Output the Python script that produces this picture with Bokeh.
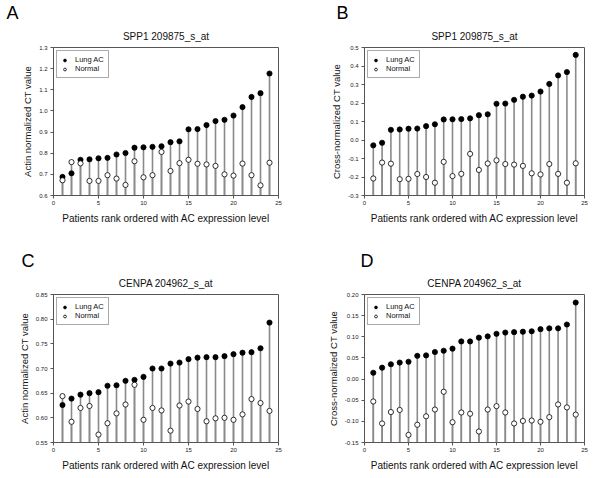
from bokeh.plotting import figure
from bokeh.models import Range1d, FixedTicker, NumeralTickFormatter, Legend, LegendItem, Title
from bokeh.layouts import gridplot
from bokeh.embed import file_html
from bokeh.resources import INLINE

# ---------------- data ----------------
ranks = [1, 2, 3, 4, 5, 6, 7, 8, 9, 10, 11, 12, 13, 14, 15, 16, 17, 18, 19, 20, 21, 22, 23, 24]
x_ticks = [0, 5, 10, 15, 20, 25]

# Panel A: SPP1, actin normalized
a_lung = [0.688, 0.705, 0.769, 0.771, 0.776, 0.778, 0.794, 0.801, 0.826, 0.828, 0.830, 0.833,
          0.852, 0.856, 0.913, 0.914, 0.933, 0.952, 0.958, 0.978, 1.018, 1.066, 1.084, 1.177]
a_normal = [0.672, 0.758, 0.752, 0.669, 0.669, 0.696, 0.680, 0.650, 0.762, 0.686, 0.696, 0.806,
            0.716, 0.753, 0.769, 0.750, 0.747, 0.740, 0.700, 0.694, 0.751, 0.696, 0.648, 0.755]
a_yticks = [0.6, 0.7, 0.8, 0.9, 1.0, 1.1, 1.2, 1.3]

# Panel B: SPP1, cross normalized
b_lung = [-0.029, -0.015, 0.055, 0.057, 0.061, 0.062, 0.075, 0.085, 0.111, 0.112, 0.113, 0.117,
          0.134, 0.139, 0.196, 0.197, 0.217, 0.234, 0.240, 0.262, 0.303, 0.349, 0.367, 0.460]
b_normal = [-0.208, -0.122, -0.128, -0.212, -0.210, -0.184, -0.200, -0.231, -0.118, -0.195, -0.183, -0.075,
            -0.162, -0.127, -0.110, -0.130, -0.133, -0.140, -0.180, -0.186, -0.130, -0.183, -0.231, -0.126]
b_yticks = [-0.3, -0.2, -0.1, 0.0, 0.1, 0.2, 0.3, 0.4, 0.5]

# Panel C: CENPA, actin normalized
c_lung = [0.626, 0.639, 0.647, 0.650, 0.652, 0.665, 0.666, 0.675, 0.677, 0.683, 0.700, 0.700,
          0.710, 0.712, 0.719, 0.722, 0.723, 0.723, 0.725, 0.729, 0.732, 0.733, 0.741, 0.793]
c_normal = [0.644, 0.592, 0.620, 0.624, 0.566, 0.589, 0.609, 0.627, 0.667, 0.596, 0.620, 0.615,
            0.574, 0.625, 0.633, 0.618, 0.593, 0.599, 0.600, 0.596, 0.607, 0.638, 0.630, 0.614]
c_yticks = [0.55, 0.60, 0.65, 0.70, 0.75, 0.80, 0.85]

# Panel D: CENPA, cross normalized
d_lung = [0.015, 0.027, 0.035, 0.039, 0.041, 0.055, 0.056, 0.064, 0.067, 0.072, 0.089, 0.089,
          0.098, 0.101, 0.107, 0.110, 0.111, 0.112, 0.113, 0.118, 0.120, 0.120, 0.129, 0.181]
d_normal = [-0.053, -0.105, -0.078, -0.073, -0.132, -0.108, -0.088, -0.072, -0.030, -0.102, -0.079, -0.082,
            -0.124, -0.072, -0.064, -0.079, -0.105, -0.099, -0.098, -0.101, -0.090, -0.060, -0.067, -0.084]
d_yticks = [-0.15, -0.10, -0.05, 0.00, 0.05, 0.10, 0.15, 0.20]

x_label = "Patients rank ordered with AC expression level"
FONT = "Liberation Sans"
STEM = "#8a8a8a"
FRAME = "#555555"


def make_panel(letter, title, ylabel, lung, normal, yticks, yfmt, width, height,
               borders, letter_offset, title_standoff):
    y_min, y_max = yticks[0], yticks[-1]
    left, right, top, bottom = borders
    p = figure(width=width, height=height, output_backend="svg", toolbar_location=None,
               x_range=Range1d(0, 25), y_range=Range1d(y_min, y_max),
               min_border_left=left, min_border_right=right,
               min_border_top=top, min_border_bottom=bottom)
    p.background_fill_color = "white"
    p.border_fill_color = "white"
    p.outline_line_color = FRAME
    p.outline_line_width = 1
    p.xgrid.visible = False
    p.ygrid.visible = False

    # panel letter (outermost title row)
    p.title.text = letter
    p.title.align = "left"
    p.title.offset = letter_offset
    p.title.text_font = FONT
    p.title.text_font_size = "18px"
    p.title.text_font_style = "normal"
    p.title.text_color = "black"
    p.title.standoff = 0
    p.title.text_line_height = 0.9

    # gene / probe title (next to the frame)
    p.add_layout(Title(text=title, align="center",
                       text_font=FONT, text_font_size="10px", text_font_style="normal",
                       text_color="#111111", standoff=title_standoff), "above")

    base = [y_min] * len(ranks)
    p.segment(x0=ranks, y0=base, x1=ranks, y1=normal, line_color=STEM, line_width=1.6)
    p.segment(x0=ranks, y0=base, x1=ranks, y1=lung, line_color=STEM, line_width=1.6)
    r_l = p.scatter(ranks, lung, marker="circle", size=5.2,
                    fill_color="black", line_color="black", line_width=0.8)
    r_n = p.scatter(ranks, normal, marker="circle", size=5.2,
                    fill_color="white", line_color="black", line_width=0.8)

    for ax in (p.xaxis[0], p.yaxis[0]):
        ax.axis_line_color = FRAME
        ax.major_tick_line_color = FRAME
        ax.major_tick_out = 3
        ax.major_tick_in = 0
        ax.minor_tick_line_color = None
        ax.major_label_text_font = FONT
        ax.major_label_text_font_size = "6px"
        ax.major_label_text_color = "#222222"
        ax.axis_label_text_font = FONT
        ax.axis_label_text_font_style = "normal"
        ax.axis_label_text_color = "#111111"

    p.xaxis.ticker = FixedTicker(ticks=x_ticks)
    p.xaxis.axis_label = x_label
    p.xaxis.axis_label_text_font_size = "10px"
    p.xaxis.major_label_standoff = 2
    p.xaxis.axis_label_standoff = 5

    p.yaxis.ticker = FixedTicker(ticks=yticks)
    p.yaxis.formatter = NumeralTickFormatter(format=yfmt)
    p.yaxis.axis_label = ylabel
    p.yaxis.axis_label_text_font_size = "9.5px"
    p.yaxis.major_label_standoff = 3
    p.yaxis.axis_label_standoff = 3

    legend = Legend(items=[LegendItem(label="Lung AC", renderers=[r_l]),
                           LegendItem(label="Normal", renderers=[r_n])],
                    location="top_left")
    legend.margin = 3
    legend.padding = 4
    legend.spacing = 0
    legend.glyph_width = 7
    legend.glyph_height = 8
    legend.label_height = 8
    legend.label_standoff = 7
    legend.label_text_font = FONT
    legend.label_text_font_size = "7.5px"
    legend.label_text_color = "#111111"
    legend.border_line_color = FRAME
    legend.border_line_width = 1
    legend.background_fill_color = "white"
    legend.background_fill_alpha = 1
    p.add_layout(legend)
    return p


pa = make_panel("A", "SPP1 209875_s_at", "Actin normalized CT value", a_lung, a_normal,
                a_yticks, "0.0", 300, 248, (51, 22, 47, 53), -47, 12)
pb = make_panel("B", "SPP1 209875_s_at", "Cross-normalized CT value", b_lung, b_normal,
                b_yticks, "0.0", 298, 248, (61, 14, 47, 53), -28, 12)
pc = make_panel("C", "CENPA 204962_s_at", "Actin normalized CT value", c_lung, c_normal,
                c_yticks, "0.00", 300, 228, (53, 22, 45, 34), -32, 11)
pd = make_panel("D", "CENPA 204962_s_at", "Cross-normalized CT value", d_lung, d_normal,
                d_yticks, "0.00", 298, 228, (64, 13, 45, 34), -4, 11)

grid = gridplot([[pa, pb], [pc, pd]], toolbar_location=None)

open("out.html", "w").write(file_html(grid, INLINE))
